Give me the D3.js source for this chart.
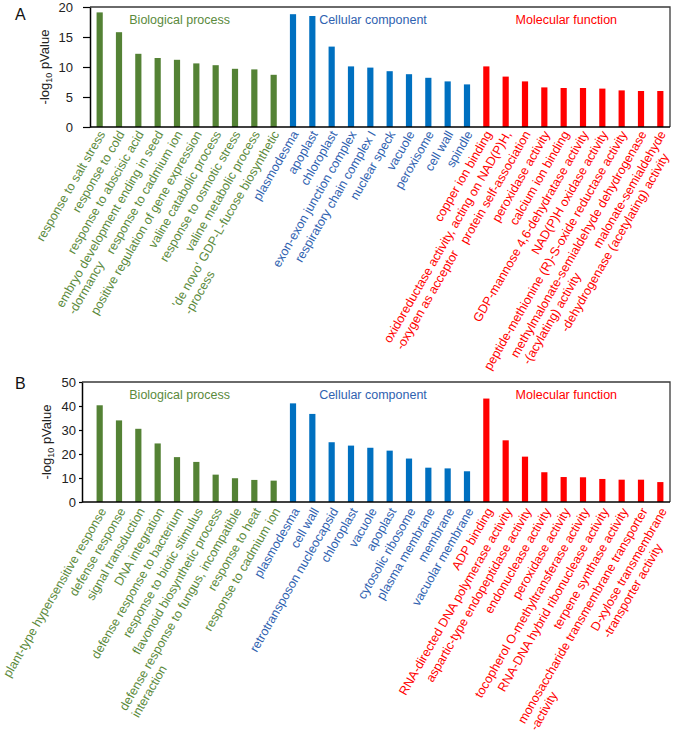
<!DOCTYPE html>
<html>
<head>
<meta charset="utf-8">
<script src="https://cdn.jsdelivr.net/npm/d3@7"></script>
<style>
  html, body { margin: 0; padding: 0; background: #fff; }
  svg { display: block; font-family: "Liberation Sans", Arial, sans-serif; }
</style>
</head>
<body>
<svg id="chart" width="673" height="741"></svg>
<script>
// ---------- data ----------
const groupNames = ["Biological process", "Cellular component", "Molecular function"];

const termsA = [
  "response to salt stress", "response to cold", "response to abscisic acid",
  "embryo development ending in seed\n-dormancy", "response to cadmium ion",
  "positive regulation of gene expression", "valine catabolic process",
  "response to osmotic stress", "valine metabolic process",
  "'de novo' GDP-L-fucose biosynthetic\n-process",
  "plasmodesma", "apoplast", "chloroplast", "exon-exon junction complex",
  "respiratory chain complex I", "nuclear speck", "vacuole", "peroxisome",
  "cell wall", "spindle",
  "copper ion binding", "oxidoreductase activity, acting on NAD(P)H,\n-oxygen as acceptor",
  "protein self-association", "peroxidase activity", "calcium ion binding",
  "GDP-mannose 4,6-dehydratase activity", "NAD(P)H oxidase activity",
  "peptide-methionine (R)-S-oxide reductase activity",
  "methylmalonate-semialdehyde dehydrogenase\n-(acylating) activity",
  "malonate-semialdehyde\n-dehydrogenase (acetylating) activity"
];
const valuesA = [
  19.1, 15.8, 12.2, 11.5, 11.2, 10.6, 10.3, 9.7, 9.6, 8.7,
  18.8, 18.5, 13.4, 10.1, 9.9, 9.3, 8.8, 8.2, 7.6, 7.1,
  10.1, 8.4, 7.6, 6.6, 6.5, 6.5, 6.4, 6.1, 6.0, 6.0
];
const ticksA = [0, 5, 10, 15, 20];

const termsB = [
  "plant-type hypersensitive response", "defense response", "signal transduction",
  "DNA integration", "defense response to bacterium", "response to biotic stimulus",
  "flavonoid biosynthetic process", "defense response to fungus, incompatible\ninteraction",
  "response to heat", "response to cadmium ion",
  "plasmodesma", "cell wall", "retrotransposon nucleocapsid", "chloroplast",
  "vacuole", "apoplast", "cytosolic ribosome", "plasma membrane", "membrane",
  "vacuolar membrane",
  "ADP binding", "RNA-directed DNA polymerase activity",
  "aspartic-type endopeptidase activity", "endonuclease activity",
  "peroxidase activity", "tocopherol O-methyltransferase activity",
  "RNA-DNA hybrid ribonuclease activity", "terpene synthase activity",
  "monosaccharide transmembrane transporter\n-activity",
  "D-xylose transmembrane\n-transporter activity"
];
const valuesB = [
  40.3, 34.0, 30.5, 24.4, 18.7, 16.7, 11.4, 9.9, 9.2, 8.9,
  41.1, 36.7, 24.9, 23.5, 22.6, 21.4, 18.1, 14.3, 14.0, 12.8,
  43.1, 25.7, 18.9, 12.4, 10.4, 10.3, 9.6, 9.3, 9.3, 8.3
];
const ticksB = [0, 10, 20, 30, 40, 50];

// ---------- styles ----------
const barColors = ["#548235", "#0070C0", "#FF0000"];
const textColors = ["#5B8A3C", "#2F62B0", "#FF0000"];

const svg = d3.select("#chart");

function drawPanel(cfg) {
  const g = svg.append("g");
  const right = 670;
  const x = d3.scaleBand()
    .domain(d3.range(cfg.terms.length))
    .range([90, right])
    .paddingInner(0.68)
    .paddingOuter(0.34);
  const y = d3.scaleLinear().domain([0, d3.max(cfg.ticks)]).range([cfg.bottom, cfg.top]);

  // frame (top & right)
  g.append("path")
    .attr("d", `M${cfg.axisX},${cfg.top}H${right}V${cfg.bottom}`)
    .attr("fill", "none").attr("stroke", "#3a3a3a").attr("stroke-width", 1.3);

  // bars
  g.selectAll("rect.bar").data(cfg.values).join("rect")
    .attr("class", "bar")
    .attr("x", (d, i) => x(i))
    .attr("width", x.bandwidth())
    .attr("y", d => y(d))
    .attr("height", d => y(0) - y(d))
    .attr("fill", (d, i) => barColors[Math.floor(i / 10)]);

  // bottom axis line
  g.append("line")
    .attr("x1", cfg.axisX).attr("x2", right)
    .attr("y1", cfg.bottom).attr("y2", cfg.bottom)
    .attr("stroke", "#000").attr("stroke-width", 1.5);

  // y axis
  const ya = g.append("g")
    .attr("transform", `translate(${cfg.axisX},0)`)
    .call(d3.axisLeft(y).tickValues(cfg.ticks).tickSize(cfg.tickSize).tickSizeOuter(0).tickPadding(cfg.tickPad));
  ya.select(".domain").attr("stroke", "#000").attr("stroke-width", 1.5);
  ya.selectAll(".tick line").attr("stroke", "#000").attr("stroke-width", 1.2);
  ya.selectAll(".tick text").attr("font-size", 13).attr("fill", "#222")
    .attr("font-family", "'Liberation Sans', Arial, sans-serif");

  // y title
  const t = g.append("text")
    .attr("transform", `translate(${cfg.titleX},${(cfg.top + cfg.bottom) / 2}) rotate(-90)`)
    .attr("text-anchor", "middle")
    .attr("font-size", 13).attr("fill", "#222");
  t.append("tspan").text("-log");
  t.append("tspan").attr("font-size", 9).attr("dy", 3).text("10");
  t.append("tspan").attr("dy", -3).text(" pValue");

  // panel letter
  g.append("text")
    .attr("x", 15).attr("y", cfg.letterY)
    .attr("font-size", 16).attr("fill", "#111")
    .text(cfg.letter);

  // group titles
  groupNames.forEach((name, k) => {
    const mid = (x(k * 10) + x(k * 10 + 9) + x.bandwidth()) / 2;
    g.append("text")
      .attr("x", mid - 7).attr("y", cfg.top + 17)
      .attr("text-anchor", "middle")
      .attr("font-size", 12.5)
      .attr("fill", textColors[k])
      .text(name);
  });

  // category labels
  const lh = 14;
  cfg.terms.forEach((term, i) => {
    const lines = term.split("\n");
    const cx = x(i) + x.bandwidth() / 2 + cfg.labDx;
    const lg = g.append("g")
      .attr("transform", `translate(${cx},${cfg.bottom + cfg.labDy}) rotate(-60)`)
      .attr("font-size", 12.5)
      .attr("fill", textColors[Math.floor(i / 10)]);
    const texts = lines.map((ln, j) => lg.append("text").attr("y", j * lh).text(ln));
    const widths = texts.map(tx => tx.node().getComputedTextLength());
    const rightAlign = lines.length > 1 && widths[1] > widths[0];
    texts.forEach((tx, j) => {
      if (j === 0) {
        tx.attr("text-anchor", "end").attr("x", 0);
      } else if (rightAlign) {
        tx.attr("text-anchor", "end").attr("x", -18);
      } else {
        tx.attr("text-anchor", "start").attr("x", -widths[0]);
      }
    });
  });
}

drawPanel({ letter: "A", terms: termsA, values: valuesA, ticks: ticksA,
  top: 7, bottom: 127, axisX: 90, tickSize: 7, tickPad: 10, titleX: 49, letterY: 20,
  labDx: 6, labDy: 7 });
drawPanel({ letter: "B", terms: termsB, values: valuesB, ticks: ticksB,
  top: 382, bottom: 502, axisX: 82, tickSize: 3, tickPad: 3, titleX: 51, letterY: 389,
  labDx: 7, labDy: 9 });
</script>
</body>
</html>
